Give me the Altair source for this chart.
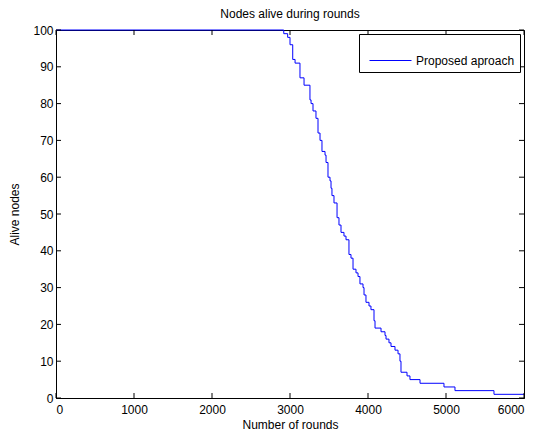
import altair as alt
import pandas as pd

# step points: (round, alive nodes)
rounds = [0, 2920, 2970, 3000, 3035, 3065, 3128, 3180, 3256, 3270, 3295, 3333, 3359, 3385,
          3410, 3449, 3462, 3487, 3513, 3526, 3538, 3564, 3603, 3628, 3654, 3692, 3718,
          3756, 3782, 3808, 3846, 3872, 3897, 3936, 3949, 3974, 4013, 4038, 4077, 4090,
          4167, 4218, 4231, 4269, 4295, 4346, 4385, 4410, 4423, 4500, 4538, 4667, 4974,
          5115, 5615, 6000]
alive = [100, 99, 98, 96, 92, 91, 87, 85, 81, 80, 78, 76, 72, 70,
         67, 66, 64, 60, 59, 57, 55, 53, 49, 47, 45, 44, 43,
         39, 38, 35, 34, 33, 31, 30, 28, 26, 25, 24, 21, 19,
         18, 17, 16, 15, 14, 13, 12, 10, 7, 6, 5, 4, 3,
         2, 1, 1]
series_name = "Proposed aproach"
x_ticks = [0, 1000, 2000, 3000, 4000, 5000, 6000]
y_ticks = [0, 10, 20, 30, 40, 50, 60, 70, 80, 90, 100]

W, H = 468, 368
TL = 5

df = pd.DataFrame({"rounds": rounds, "alive": alive, "series": series_name})
xs = alt.Scale(domain=[0, 6000], nice=False)
ys = alt.Scale(domain=[0, 100], nice=False)
x_axis = alt.Axis(values=x_ticks, format="d", ticks=False, labelPadding=6,
                  titlePadding=4, grid=False, labelOverlap=False)
y_axis = alt.Axis(values=y_ticks, format="d", ticks=False, labelPadding=3,
                  titlePadding=11, grid=False, labelOverlap=False)
XT = "Number of rounds"
YT = "Alive nodes"

line = alt.Chart(df).mark_line(interpolate="step-after", strokeWidth=1).encode(
    x=alt.X("rounds:Q", scale=xs, title=XT, axis=x_axis),
    y=alt.Y("alive:Q", scale=ys, title=YT, axis=y_axis),
    color=alt.Color("series:N", scale=alt.Scale(range=["#0000ff"]),
                    legend=alt.Legend(title=None, orient="top-right", offset=4,
                                      symbolType="stroke", symbolSize=1764,
                                      symbolStrokeWidth=1, labelFontSize=12,
                                      labelFont="Liberation Sans", labelLimit=300,
                                      strokeColor="black", fillColor="white",
                                      padding=5, cornerRadius=0, labelOffset=4,
                                      symbolOffset=5)),
)

ydf = pd.DataFrame({"v": y_ticks})
xdf = pd.DataFrame({"t": x_ticks})
yl = alt.Chart(ydf).mark_rule(color="black", strokeWidth=1).encode(
    y=alt.Y("v:Q", scale=ys, title=YT, axis=y_axis), x=alt.value(0), x2=alt.value(TL))
yr = alt.Chart(ydf).mark_rule(color="black", strokeWidth=1).encode(
    y=alt.Y("v:Q", scale=ys, title=YT, axis=y_axis), x=alt.value(W - TL), x2=alt.value(W))
xb = alt.Chart(xdf).mark_rule(color="black", strokeWidth=1).encode(
    x=alt.X("t:Q", scale=xs, title=XT, axis=x_axis), y=alt.value(H - TL), y2=alt.value(H))
xt = alt.Chart(xdf).mark_rule(color="black", strokeWidth=1).encode(
    x=alt.X("t:Q", scale=xs, title=XT, axis=x_axis), y=alt.value(0), y2=alt.value(TL))

chart = alt.layer(line, yl, yr, xb, xt).properties(
    width=W, height=H,
    title=alt.TitleParams("Nodes alive during rounds", fontSize=12, fontWeight="normal",
                          font="Liberation Sans", offset=3, color="black"),
    padding={"left": 0, "top": 0, "right": 5, "bottom": 2},
).configure_view(stroke="black", strokeWidth=1).configure_axis(
    domainColor="black", labelColor="black", titleColor="black",
    labelFont="Liberation Sans", titleFont="Liberation Sans",
    labelFontSize=12, titleFontSize=12, titleFontWeight="normal",
).configure_legend(labelColor="black")

chart.save("out.html", embed_options={"renderer": "svg", "actions": False})
